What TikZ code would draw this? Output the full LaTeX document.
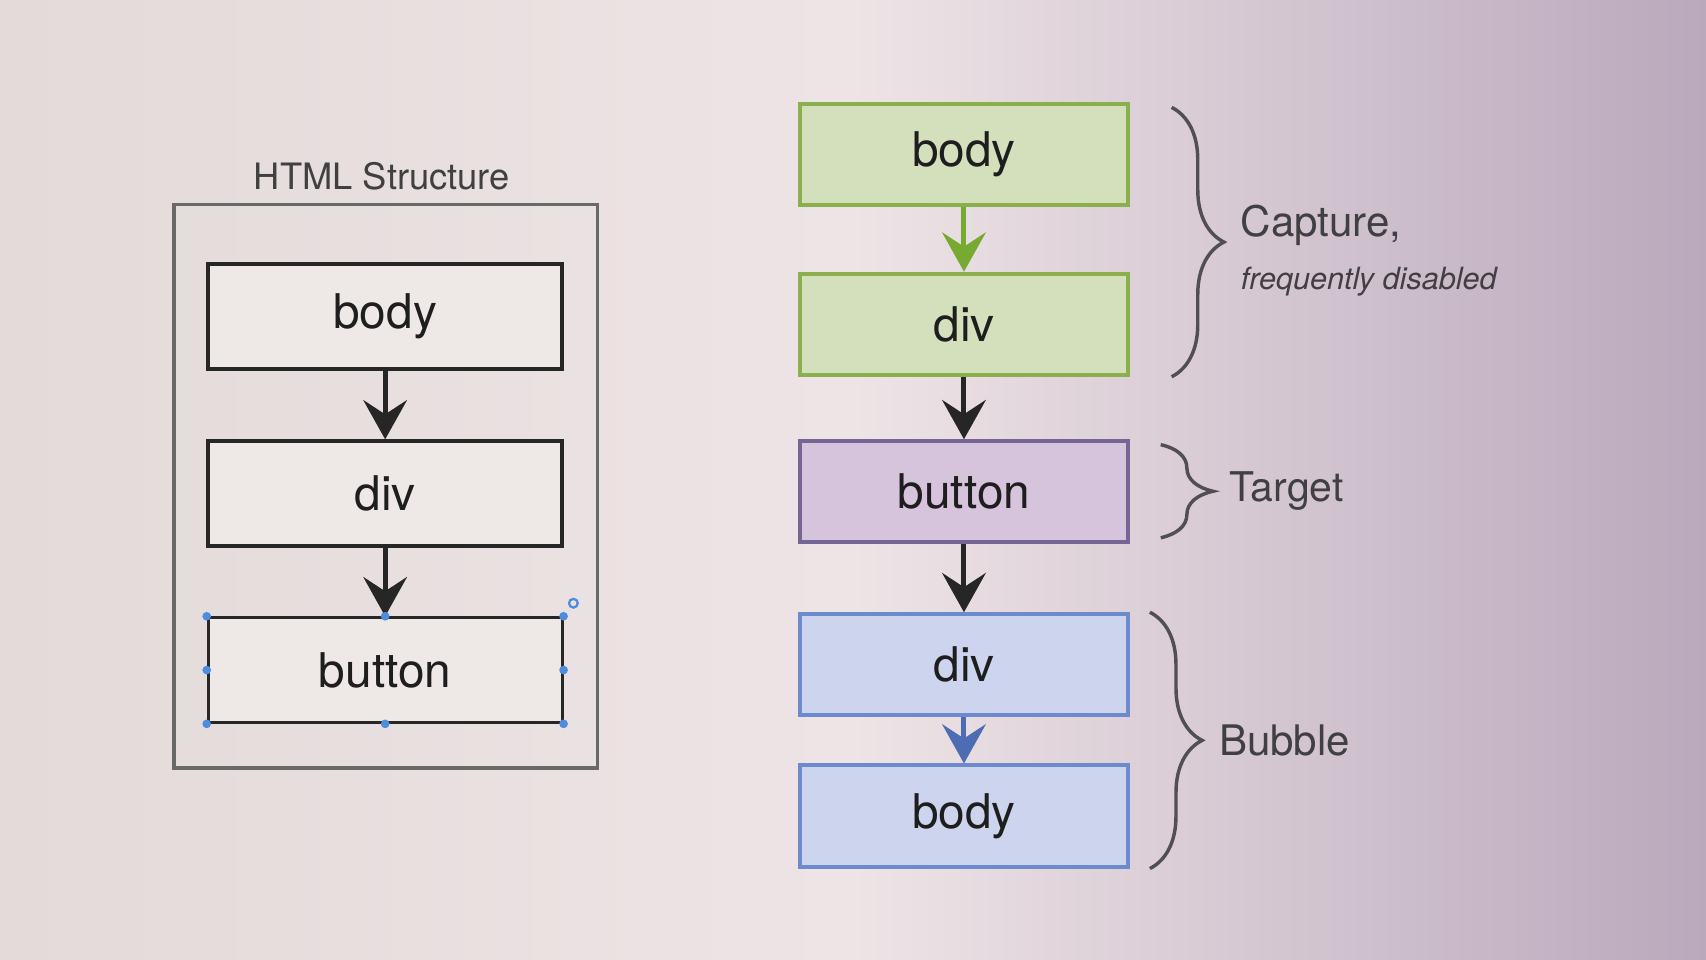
\documentclass[tikz,border=0pt]{standalone}
\usepackage{fontspec}
\setmainfont{TeX Gyre Heros}
\usetikzlibrary{
	arrows.meta,
	positioning,
	decorations.pathreplacing
}
\definecolor{bgleft}{RGB}{226,219,217}
\definecolor{bgmid}{RGB}{238,228,230}
\definecolor{bgright}{RGB}{186,168,188}
\definecolor{hline}{RGB}{38,38,38}
\definecolor{hfill}{RGB}{238,232,231}
\definecolor{frameline}{RGB}{105,105,105}
\definecolor{capfill}{RGB}{212,223,188}
\definecolor{capline}{RGB}{138,176,78}
\definecolor{caparrow}{RGB}{118,170,48}
\definecolor{tgtfill}{RGB}{214,195,220}
\definecolor{tgtline}{RGB}{118,100,148}
\definecolor{bubfill}{RGB}{205,212,238}
\definecolor{bubline}{RGB}{108,138,204}
\definecolor{bubarrow}{RGB}{78,108,178}
\definecolor{handleblue}{RGB}{78,140,222}
\definecolor{bracegrey}{RGB}{80,80,84}
\definecolor{inktext}{RGB}{30,30,30}
\newcommand{\boxfont}{\fontsize{12.5}{15}\selectfont}

\tikzset{
	hbox/.style={draw=hline,fill=hfill,line width=1pt,text=inktext,
		minimum width=3.25cm,minimum height=0.96cm,font=\boxfont},
	ebox/.style={line width=1pt,text=inktext,
		minimum width=3.02cm,minimum height=0.93cm,font=\boxfont},
	capbox/.style={ebox,draw=capline,fill=capfill},
	tgtbox/.style={ebox,draw=tgtline,fill=tgtfill},
	bubbox/.style={ebox,draw=bubline,fill=bubfill},
	flow/.style={-{Stealth[length=3.6mm,width=4mm,inset=1.3mm]},line width=1.3pt},
	phase/.style={decorate,decoration={brace,amplitude=0.48cm},
		draw=bracegrey,line width=0.9pt},
	phaselabel/.style={anchor=west,inner sep=0pt,xshift=0.62cm,text=bracegrey!80!black},
	handle/.style={circle,fill=handleblue,inner sep=0pt,minimum size=0.08cm}
}

\begin{document}
\begin{tikzpicture}[x=0.01cm,y=-0.01cm]
    % Background of the photo
    \shade[left color=bgleft,right color=bgright,middle color=bgmid] (0,0) rectangle (1568,882);
    \useasboundingbox (0,0) rectangle (1568,882);
    % HTML structure
    \node[text=inktext!85,font=\fontsize{9.5}{11}\selectfont] (title) at (351,162) {HTML Structure};
    \draw[frameline,line width=0.9pt] (160,188) rectangle (549,706);
    \node[hbox] (hbody) at (354,291) {body};
    \node[hbox,below=0.63cm of hbody] (hdiv) {div};
    \node[hbox,below=0.63cm of hdiv,line width=0.8pt] (hbutton) {button};
    \draw[flow,hline] (hbody) -- (hdiv);
    \draw[flow,hline] (hdiv) -- (hbutton);
    % Selection handles
    \foreach \a [count=\i] in {north west,north,north east,east,south east,south,south west,west}
        \node[handle] (hdl\i) at (hbutton.\a) {};
    \draw[handleblue,line width=0.6pt] ([xshift=0.09cm,yshift=0.12cm]hbutton.north east) circle (0.04cm);
    % Event flow
    \node[capbox] (cbody)   at (886,142) {body};
    \node[capbox] (cdiv)    at (886,298) {div};
    \node[tgtbox] (tbutton) at (886,452) {button};
    \node[bubbox] (bdiv)    at (886,611) {div};
    \node[bubbox] (bbody)   at (886,750) {body};
    \draw[flow,caparrow] (cbody) -- (cdiv);
    \draw[flow,hline] (cdiv) -- (tbutton);
    \draw[flow,hline] (tbutton) -- (bdiv);
    \draw[flow,bubarrow] (bdiv) -- (bbody);
    % Phases
    \draw[phase] ([xshift=0.38cm,yshift=-0.05cm]cbody.north east) -- ([xshift=0.38cm]cdiv.south east)
        node[phaselabel,midway,align=left,yshift=-0.08cm] (capture)
        {\fontsize{11}{15}\selectfont Capture,\\[2pt]{\fontsize{8}{10}\selectfont\itshape frequently disabled}};
    \draw[phase] ([xshift=0.28cm,yshift=-0.05cm]tbutton.north east) -- ([xshift=0.28cm,yshift=0.06cm]tbutton.south east)
        node[phaselabel,midway,font=\fontsize{10.7}{13}\selectfont] (target) {Target};
    \draw[phase] ([xshift=0.18cm]bdiv.north east) -- ([xshift=0.18cm]bbody.south east)
        node[phaselabel,midway,font=\fontsize{11}{13}\selectfont] (bubble) {Bubble};
\end{tikzpicture}
\end{document}
